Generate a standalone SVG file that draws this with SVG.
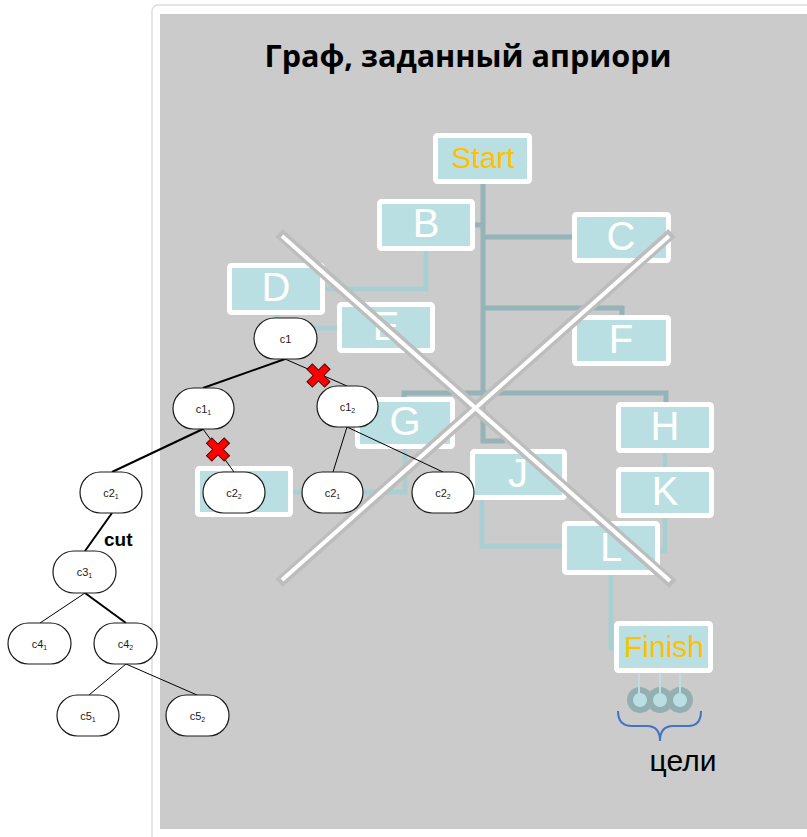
<svg xmlns="http://www.w3.org/2000/svg" xmlns:xlink="http://www.w3.org/1999/xlink" width="807" height="837" viewBox="0 0 807 837">
  <style>
    .box rect { fill: #b9dfe2; stroke: #ffffff; stroke-width: 5; }
    .box text { font-family: "Liberation Sans", Arial, sans-serif; font-size: 40px; fill: #ffffff; text-anchor: middle; }
    .box text.term { font-size: 30px; fill: #ffc000; }
    .link-dark { fill: none; stroke: #94b4b8; stroke-width: 5; }
    .link-light { fill: none; stroke: #a9cfd3; stroke-width: 5; }
    .cross-edge { stroke: #bdbdbd; stroke-width: 11; stroke-linecap: butt; }
    .cross-core { stroke: #ffffff; stroke-width: 4; stroke-linecap: butt; }
    .oval rect { fill: #ffffff; stroke: #1a1a1a; stroke-width: 1.2; }
    .oval text { font-family: "Liberation Sans", Arial, sans-serif; font-size: 11px; fill: #1a1a1a; text-anchor: middle; }
    .oval tspan.sub { font-size: 7px; }
    .edge { stroke: #000000; stroke-width: 1; fill: none; }
    .edge.bold { stroke-width: 2; }
  </style>
  <defs>
    <polygon id="redx" points="-3.8,-12.5 3.8,-12.5 3.8,-3.8 12.5,-3.8 12.5,3.8 3.8,3.8 3.8,12.5 -3.8,12.5 -3.8,3.8 -12.5,3.8 -12.5,-3.8 -3.8,-3.8" transform="rotate(45)" fill="#ff0000" stroke="#5a0000" stroke-width="1"/>
  </defs>

  <!-- page background and slide card -->
  <rect x="0" y="0" width="807" height="837" fill="#ffffff"/>
  <rect x="152" y="5" width="665" height="845" rx="6" fill="#ffffff" stroke="#dcdcdc" stroke-width="1.5"/>
  <rect x="160" y="14" width="647" height="815" fill="#cbcbcb"/>

  <text x="468" y="66.5" font-family="'Open Sans', 'DejaVu Sans', sans-serif" font-weight="700" font-size="30" fill="#000000" text-anchor="middle" textLength="407" lengthAdjust="spacingAndGlyphs">Граф, заданный априори</text>

  <!-- connectors of the predefined graph -->
  <g id="graph-links">
    <path class="link-dark" d="M483,184 V441 H505"/>
    <path class="link-dark" d="M475,225 H483"/>
    <path class="link-dark" d="M483,237 H572"/>
    <path class="link-dark" d="M483,308 H622 V317"/>
    <path class="link-dark" d="M404,399 V393 H666 V402"/>
    <path class="link-light" d="M426,251 V289 H325"/>
    <path class="link-light" d="M277,315 V328 H337"/>
    <path class="link-light" d="M405,448 V492 H293"/>
    <path class="link-light" d="M482,500 V546 H562"/>
    <path class="link-light" d="M665,453 V551 H660"/>
    <path class="link-light" d="M611,575 V648 H614"/>
  </g>

  <!-- nodes of the predefined graph -->
  <g id="node-start" class="box"><rect x="435.5" y="135.5" width="94" height="46" rx="2"/><text class="term" x="483" y="168">Start</text></g>
  <g id="node-b" class="box"><rect x="379.5" y="201.5" width="93" height="47" rx="2"/><text x="426" y="237">B</text></g>
  <g id="node-c" class="box"><rect x="574.5" y="214.5" width="94" height="46" rx="2"/><text x="621" y="250">C</text></g>
  <g id="node-d" class="box"><rect x="229.5" y="265.5" width="93" height="47" rx="2"/><text x="276" y="301">D</text></g>
  <g id="node-e" class="box"><rect x="339.5" y="304.5" width="93" height="46" rx="2"/><text x="386" y="340">E</text></g>
  <g id="node-f" class="box"><rect x="574.5" y="317.5" width="94" height="46" rx="2"/><text x="621" y="353">F</text></g>
  <g id="node-g" class="box"><rect x="357.5" y="399.5" width="95" height="47" rx="2"/><text x="405" y="435">G</text></g>
  <g id="node-i" class="box"><rect x="197.5" y="468.5" width="93" height="46" rx="2"/></g>
  <g id="node-j" class="box"><rect x="472.5" y="451.5" width="92" height="46" rx="2"/><text x="518" y="487">J</text></g>
  <g id="node-h" class="box"><rect x="618.5" y="404.5" width="93" height="46" rx="2"/><text x="665" y="440">H</text></g>
  <g id="node-k" class="box"><rect x="618.5" y="469.5" width="93" height="46" rx="2"/><text x="665" y="505">K</text></g>
  <g id="node-l" class="box"><rect x="564.5" y="523.5" width="93" height="49" rx="2"/><text x="611" y="561">L</text></g>
  <g id="node-finish" class="box"><rect x="616.5" y="623.5" width="94" height="47" rx="2"/><text class="term" x="664" y="657">Finish</text></g>

  <!-- goal markers -->
  <g id="goals">
    <circle cx="640" cy="700" r="10" fill="#b9dfe2" stroke="#94afb2" stroke-width="6"/>
    <circle cx="660" cy="700" r="10" fill="#b9dfe2" stroke="#94afb2" stroke-width="6"/>
    <circle cx="680" cy="700" r="10" fill="#b9dfe2" stroke="#94afb2" stroke-width="6"/>
    <path d="M639,673 V699 M660,673 V699 M680,673 V699" stroke="#b9dfe2" stroke-width="2" fill="none"/>
    <path d="M618,711 Q618,726 632,726 L647,726 Q660,726 660,741 Q660,726 673,726 L688,726 Q701,726 701,711" fill="none" stroke="#4472c4" stroke-width="2"/>
    <text x="683" y="771" font-family="'Liberation Sans', Arial, sans-serif" font-size="30" fill="#000000" text-anchor="middle">цели</text>
  </g>

  <!-- big strike-through cross -->
  <g id="strike">
    <line class="cross-edge" x1="279" y1="233" x2="673" y2="584"/>
    <line class="cross-edge" x1="672" y1="233" x2="279" y2="583"/>
    <line class="cross-core" x1="282" y1="236" x2="670" y2="581"/>
    <line class="cross-core" x1="669" y1="236" x2="282" y2="580"/>
  </g>

  <!-- search tree edges -->
  <g id="tree-edges">
    <line class="edge bold" x1="285" y1="359" x2="203" y2="388"/>
    <line class="edge" x1="285" y1="359" x2="347" y2="386"/>
    <line class="edge bold" x1="203" y1="429" x2="112" y2="472"/>
    <line class="edge" x1="203" y1="429" x2="234" y2="472"/>
    <line class="edge" x1="347" y1="427" x2="333" y2="472"/>
    <line class="edge" x1="347" y1="427" x2="443" y2="472"/>
    <line class="edge bold" x1="112" y1="513" x2="85" y2="551"/>
    <line class="edge" x1="85" y1="593" x2="40" y2="623"/>
    <line class="edge bold" x1="85" y1="593" x2="126" y2="623"/>
    <line class="edge" x1="126" y1="664" x2="89" y2="695"/>
    <line class="edge" x1="126" y1="664" x2="197" y2="695"/>
    <text x="104" y="546" font-family="'Liberation Sans', Arial, sans-serif" font-size="19" font-weight="700" fill="#000000">cut</text>
    <use xlink:href="#redx" transform="translate(318.5,375.5)"/>
    <use xlink:href="#redx" transform="translate(218,449.5)"/>
  </g>

  <!-- search tree nodes -->
  <g id="t-c1" class="oval"><rect x="254" y="318" width="63" height="41" rx="20.5"/><text x="285.5" y="342.5">c1</text></g>
  <g id="t-c1-1" class="oval"><rect x="173" y="388" width="61" height="41" rx="20.5"/><text x="203.5" y="412.5">c1<tspan class="sub" dy="2">1</tspan></text></g>
  <g id="t-c1-2" class="oval"><rect x="317" y="386" width="61" height="41" rx="20.5"/><text x="347.5" y="410.5">c1<tspan class="sub" dy="2">2</tspan></text></g>
  <g id="t-c2-2a" class="oval"><rect x="203" y="472" width="62" height="41" rx="20.5"/><text x="234" y="496.5">c2<tspan class="sub" dy="2">2</tspan></text></g>
  <g id="t-c2-1b" class="oval"><rect x="302" y="472" width="61" height="41" rx="20.5"/><text x="332.5" y="496.5">c2<tspan class="sub" dy="2">1</tspan></text></g>
  <g id="t-c2-2b" class="oval"><rect x="412" y="472" width="62" height="41" rx="20.5"/><text x="443" y="496.5">c2<tspan class="sub" dy="2">2</tspan></text></g>
  <g id="t-c2-1" class="oval"><rect x="80" y="472" width="62" height="41" rx="20.5"/><text x="111" y="496.5">c2<tspan class="sub" dy="2">1</tspan></text></g>
  <g id="t-c3-1" class="oval"><rect x="53" y="551" width="63" height="42" rx="21"/><text x="84.5" y="576">c3<tspan class="sub" dy="2">1</tspan></text></g>
  <g id="t-c4-1" class="oval"><rect x="8" y="623" width="63" height="41" rx="20.5"/><text x="39.5" y="647.5">c4<tspan class="sub" dy="2">1</tspan></text></g>
  <g id="t-c4-2" class="oval"><rect x="94" y="623" width="63" height="41" rx="20.5"/><text x="125.5" y="647.5">c4<tspan class="sub" dy="2">2</tspan></text></g>
  <g id="t-c5-1" class="oval"><rect x="57" y="695" width="62" height="41" rx="20.5"/><text x="88" y="719.5">c5<tspan class="sub" dy="2">1</tspan></text></g>
  <g id="t-c5-2" class="oval"><rect x="166" y="695" width="63" height="41" rx="20.5"/><text x="197.5" y="719.5">c5<tspan class="sub" dy="2">2</tspan></text></g>
</svg>
